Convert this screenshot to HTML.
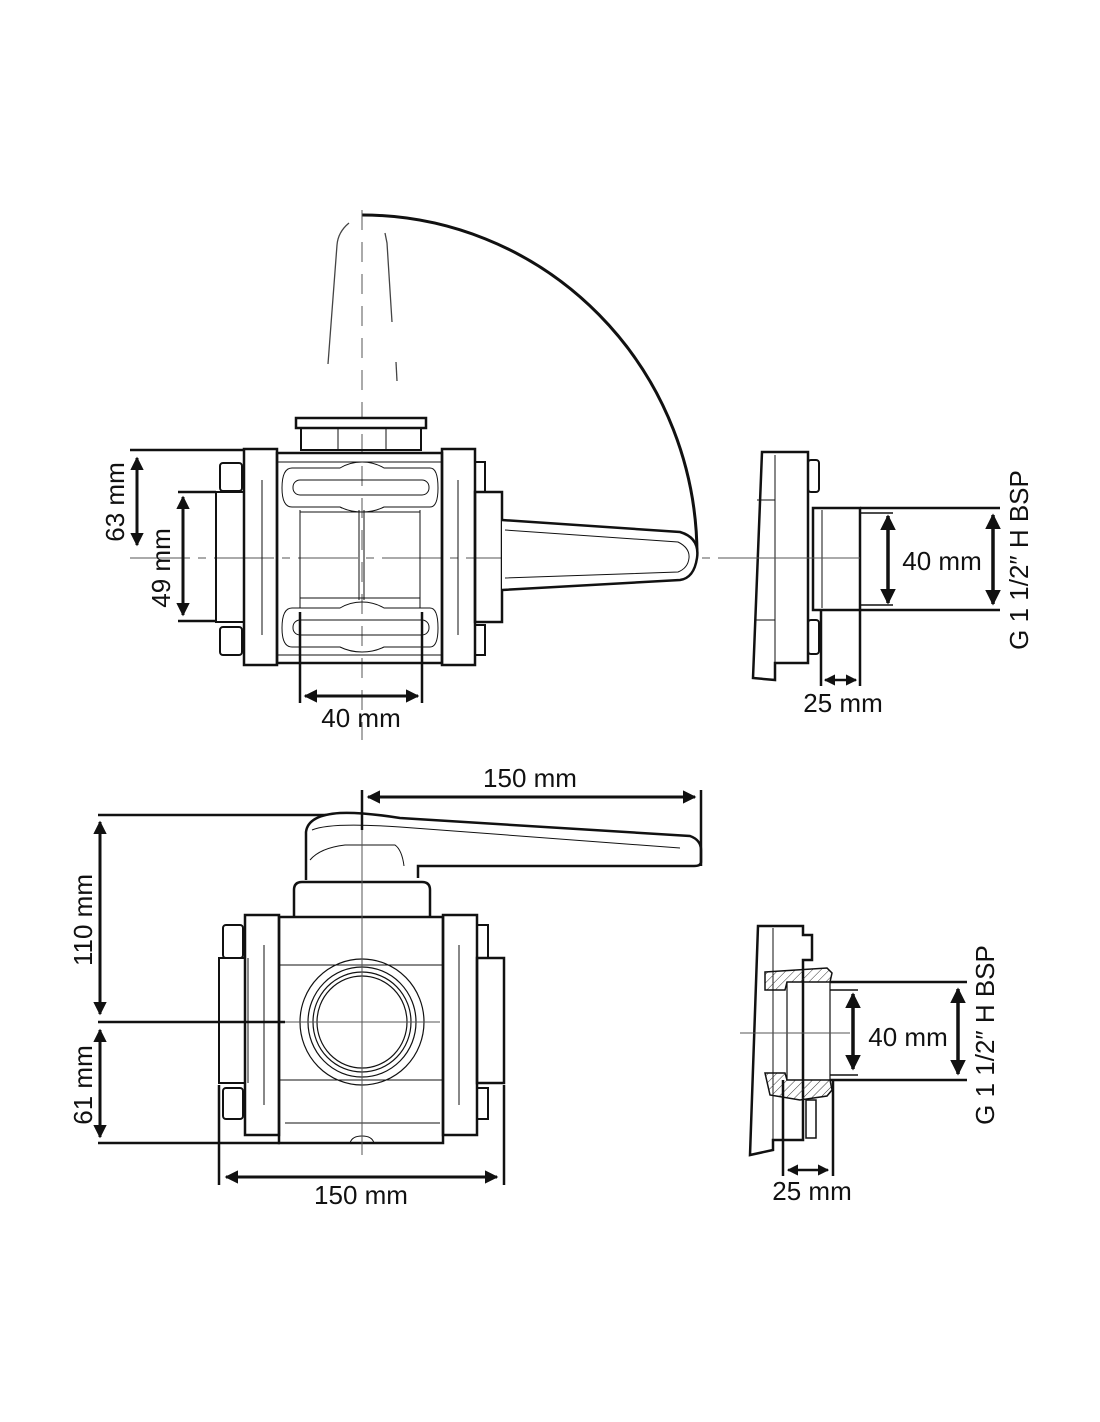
<!DOCTYPE html>
<html><head><meta charset="utf-8"><style>
html,body{margin:0;padding:0;background:#fff}
svg{display:block}
text{font-family:"Liberation Sans",sans-serif;fill:#111}
</style></head><body>
<svg width="1100" height="1422" viewBox="0 0 1100 1422" xmlns="http://www.w3.org/2000/svg">
<defs>
<marker id="a" viewBox="0 0 10 10" refX="9" refY="5" markerWidth="4.5" markerHeight="4.5" orient="auto-start-reverse"><path d="M0,0L10,5L0,10z" fill="#111"/></marker>
<pattern id="h" width="6" height="6" patternUnits="userSpaceOnUse" patternTransform="rotate(45)"><line x1="0" y1="0" x2="0" y2="6" stroke="#333" stroke-width="1"/></pattern>
</defs>
<g fill="none" stroke="#111">
<path d="M362,215 A335,340 0 0 1 697,555" stroke-width="3"/>
<g stroke="#444" stroke-width="1.3">
<path d="M349,223 Q338,232 337,245 L328,364"/>
<path d="M385,233 L387,243 L392,322"/>
<line x1="396" y1="362" x2="397" y2="381"/>
</g>
<line x1="362" y1="210" x2="362" y2="740" stroke="#555" stroke-width="1" stroke-dasharray="20,12"/>
<line x1="130" y1="558" x2="740" y2="558" stroke="#555" stroke-width="1" stroke-dasharray="60,8,8,8"/>
<rect x="296" y="418" width="130" height="10" stroke-width="2.5" fill="#fff"/>
<rect x="301" y="428" width="120" height="22" stroke-width="2"/>
<line x1="338" y1="428" x2="338" y2="450" stroke-width="1"/><line x1="386" y1="428" x2="386" y2="450" stroke-width="1"/>
<rect x="216" y="492" width="28" height="130" stroke-width="2"/>
<rect x="220" y="463" width="22" height="28" rx="3" stroke-width="2"/>
<rect x="220" y="627" width="22" height="28" rx="3" stroke-width="2"/>
<rect x="244" y="449" width="33" height="216" stroke-width="2.5"/>
<rect x="277" y="453" width="165" height="210" stroke-width="2.5"/>
<rect x="442" y="449" width="33" height="216" stroke-width="2.5"/>
<rect x="475" y="462" width="10" height="30" stroke-width="2"/>
<rect x="475" y="625" width="10" height="30" stroke-width="2"/>
<rect x="475" y="492" width="27" height="130" stroke-width="2.5"/>
<g stroke-width="1">
<line x1="262" y1="480" x2="262" y2="635"/><line x1="458" y1="480" x2="458" y2="635"/>
<line x1="277" y1="462" x2="442" y2="462"/><line x1="277" y1="655" x2="442" y2="655"/>
<path d="M292,468 H340 Q350,462 362,462 Q374,462 384,468 H430 Q438,468 438,488 Q438,507 430,507 H384 Q374,512 362,512 Q350,512 340,507 H292 Q282,507 282,488 Q282,468 292,468z"/>
<rect x="293" y="480" width="136" height="15" rx="7"/>
<path d="M292,608 H340 Q350,602 362,602 Q374,602 384,608 H430 Q438,608 438,628 Q438,647 430,647 H384 Q374,652 362,652 Q350,652 340,647 H292 Q282,647 282,628 Q282,608 292,608z"/>
<rect x="293" y="620" width="136" height="15" rx="7"/>
<line x1="300" y1="510" x2="300" y2="608"/><line x1="420" y1="510" x2="420" y2="608"/>
<line x1="359" y1="510" x2="359" y2="600"/><line x1="364" y1="510" x2="364" y2="600"/>
<line x1="300" y1="512" x2="420" y2="512"/><line x1="300" y1="598" x2="420" y2="598"/>
</g>
<path d="M502,520 L680,532 Q700,538 697,558 Q694,578 680,580 L502,590" stroke-width="2.5" fill="#fff"/>
<path d="M505,530 L678,542 Q690,548 689,558 Q688,568 678,572 L505,578" stroke-width="1"/>
<line x1="130" y1="450" x2="244" y2="450" stroke-width="2.5"/>
<line x1="137" y1="458" x2="137" y2="545" stroke-width="3" marker-start="url(#a)" marker-end="url(#a)"/>
<line x1="178" y1="492" x2="216" y2="492" stroke-width="2.5"/>
<line x1="178" y1="621" x2="216" y2="621" stroke-width="2.5"/>
<line x1="183" y1="497" x2="183" y2="615" stroke-width="3" marker-start="url(#a)" marker-end="url(#a)"/>
<line x1="300" y1="612" x2="300" y2="703" stroke-width="2.5"/>
<line x1="422" y1="612" x2="422" y2="703" stroke-width="2.5"/>
<line x1="305" y1="696" x2="418" y2="696" stroke-width="3" marker-start="url(#a)" marker-end="url(#a)"/>

<path d="M762,452 L808,452 L808,663 L775,663 L775,680 L753,678 Z" stroke-width="2.5"/>
<line x1="775" y1="455" x2="775" y2="663" stroke-width="1"/>
<line x1="757" y1="500" x2="775" y2="500" stroke-width="1"/><line x1="756" y1="620" x2="775" y2="620" stroke-width="1"/>
<rect x="808" y="460" width="11" height="32" rx="3" stroke-width="2"/>
<rect x="808" y="620" width="11" height="34" rx="3" stroke-width="2"/>
<rect x="813" y="508" width="47" height="102" stroke-width="2.5"/>
<line x1="822" y1="510" x2="822" y2="608" stroke-width="1"/>
<line x1="740" y1="558" x2="860" y2="558" stroke="#555" stroke-width="1"/>
<line x1="860" y1="508" x2="1000" y2="508" stroke-width="2.5"/>
<line x1="860" y1="610" x2="1000" y2="610" stroke-width="2.5"/>
<line x1="860" y1="513" x2="893" y2="513" stroke-width="1.5"/>
<line x1="860" y1="605" x2="893" y2="605" stroke-width="1.5"/>
<line x1="888" y1="516" x2="888" y2="603" stroke-width="3.5" marker-start="url(#a)" marker-end="url(#a)"/>
<line x1="993" y1="515" x2="993" y2="604" stroke-width="3.5" marker-start="url(#a)" marker-end="url(#a)"/>
<line x1="821" y1="610" x2="821" y2="686" stroke-width="2.5"/>
<line x1="860" y1="610" x2="860" y2="686" stroke-width="2.5"/>
<line x1="825" y1="680" x2="856" y2="680" stroke-width="2.5" marker-start="url(#a)" marker-end="url(#a)"/>

<line x1="98" y1="815" x2="360" y2="815" stroke-width="2.5"/>
<path d="M306,880 L306,832 Q308,815 340,813 Q362,812 400,818 L690,836 Q701,840 701,850 L701,862 Q701,866 694,866 L418,866 L418,878" stroke-width="2.5" fill="#fff"/>
<path d="M310,860 Q320,848 345,845 L395,845 Q402,850 404,866 M312,830 Q330,822 400,827 L680,848" stroke-width="1"/>
<path d="M294,917 L294,890 Q294,882 302,882 L422,882 Q430,882 430,890 L430,917" stroke-width="2.5"/>
<rect x="219" y="958" width="26" height="125" stroke-width="2"/>
<rect x="223" y="925" width="20" height="33" rx="3" stroke-width="2"/>
<rect x="223" y="1088" width="20" height="31" rx="3" stroke-width="2"/>
<rect x="245" y="915" width="34" height="220" stroke-width="2.5"/>
<rect x="279" y="917" width="164" height="226" stroke-width="2.5"/>
<rect x="443" y="915" width="34" height="220" stroke-width="2.5"/>
<rect x="477" y="925" width="11" height="33" stroke-width="2"/>
<rect x="477" y="1088" width="11" height="31" stroke-width="2"/>
<rect x="477" y="958" width="27" height="125" stroke-width="2.5"/>
<g stroke-width="1">
<line x1="264" y1="945" x2="264" y2="1105"/><line x1="459" y1="945" x2="459" y2="1105"/>
<line x1="279" y1="965" x2="443" y2="965"/><line x1="279" y1="1080" x2="443" y2="1080"/>
<line x1="285" y1="1123" x2="440" y2="1123"/>
<line x1="248" y1="958" x2="248" y2="1083"/>
<path d="M350,1143 Q352,1136 362,1136 Q372,1136 374,1143"/>
</g>
<g stroke-width="1.2">
<ellipse cx="362" cy="1022" rx="62" ry="63"/>
<ellipse cx="362" cy="1022" rx="54" ry="55"/>
<ellipse cx="362" cy="1022" rx="49" ry="50"/>
<ellipse cx="362" cy="1022" rx="45" ry="46"/>
</g>
<line x1="362" y1="790" x2="362" y2="1155" stroke="#555" stroke-width="1"/>
<line x1="280" y1="1022" x2="440" y2="1022" stroke="#555" stroke-width="1"/>
<line x1="98" y1="1022" x2="285" y2="1022" stroke-width="2.5"/>
<line x1="98" y1="1143" x2="280" y2="1143" stroke-width="2.5"/>
<line x1="100" y1="822" x2="100" y2="1014" stroke-width="3" marker-start="url(#a)" marker-end="url(#a)"/>
<line x1="100" y1="1030" x2="100" y2="1137" stroke-width="3" marker-start="url(#a)" marker-end="url(#a)"/>
<line x1="219" y1="1085" x2="219" y2="1185" stroke-width="2.5"/>
<line x1="504" y1="1085" x2="504" y2="1185" stroke-width="2.5"/>
<line x1="226" y1="1177" x2="497" y2="1177" stroke-width="3" marker-start="url(#a)" marker-end="url(#a)"/>
<line x1="362" y1="790" x2="362" y2="830" stroke-width="2.5"/>
<line x1="701" y1="790" x2="701" y2="866" stroke-width="2.5"/>
<line x1="368" y1="797" x2="695" y2="797" stroke-width="3" marker-start="url(#a)" marker-end="url(#a)"/>

<path d="M758,926 L803,926 L803,935 L812,935 L812,960 L803,960 L803,1140 L773,1140 L773,1150 L750,1155 Z" stroke-width="2.5"/>
<line x1="773" y1="928" x2="773" y2="1140" stroke-width="1"/>
<rect x="806" y="1100" width="10" height="38" stroke-width="1.5"/>
<path d="M765,972 L827,968 L832,973 L830,982 L787,982 L785,990 L765,990 Z" fill="url(#h)" stroke-width="1.5"/>
<path d="M765,1073 L785,1073 L787,1080 L830,1080 L832,1090 L827,1096 L800,1100 L770,1095 Z" fill="url(#h)" stroke-width="1.5"/>
<line x1="787" y1="982" x2="787" y2="1080" stroke-width="1.2"/>
<line x1="830" y1="982" x2="830" y2="1080" stroke-width="1.2"/>
<line x1="740" y1="1033" x2="850" y2="1033" stroke="#555" stroke-width="1"/>
<line x1="830" y1="982" x2="967" y2="982" stroke-width="2.5"/>
<line x1="830" y1="1080" x2="967" y2="1080" stroke-width="2.5"/>
<line x1="830" y1="990" x2="858" y2="990" stroke-width="1.5"/>
<line x1="830" y1="1075" x2="858" y2="1075" stroke-width="1.5"/>
<line x1="853" y1="994" x2="853" y2="1069" stroke-width="3.5" marker-start="url(#a)" marker-end="url(#a)"/>
<line x1="958" y1="989" x2="958" y2="1074" stroke-width="3.5" marker-start="url(#a)" marker-end="url(#a)"/>
<line x1="783" y1="1080" x2="783" y2="1176" stroke-width="2.5"/>
<line x1="833" y1="1080" x2="833" y2="1176" stroke-width="2.5"/>
<line x1="788" y1="1170" x2="828" y2="1170" stroke-width="2.5" marker-start="url(#a)" marker-end="url(#a)"/>
</g>
<g font-size="26">
<text transform="translate(124,502) rotate(-90)" text-anchor="middle">63 mm</text>
<text transform="translate(170,568) rotate(-90)" text-anchor="middle">49 mm</text>
<text x="361" y="727" text-anchor="middle">40 mm</text>
<text x="942" y="570" text-anchor="middle">40 mm</text>
<text transform="translate(1028,560) rotate(-90)" text-anchor="middle">G 1 1/2″ H BSP</text>
<text x="843" y="712" text-anchor="middle">25 mm</text>
<text x="530" y="787" text-anchor="middle">150 mm</text>
<text transform="translate(92,920) rotate(-90)" text-anchor="middle">110 mm</text>
<text transform="translate(92,1085) rotate(-90)" text-anchor="middle">61 mm</text>
<text x="361" y="1204" text-anchor="middle">150 mm</text>
<text x="908" y="1046" text-anchor="middle">40 mm</text>
<text transform="translate(994,1035) rotate(-90)" text-anchor="middle">G 1 1/2″ H BSP</text>
<text x="812" y="1200" text-anchor="middle">25 mm</text>
</g>
</svg>
</body></html>
